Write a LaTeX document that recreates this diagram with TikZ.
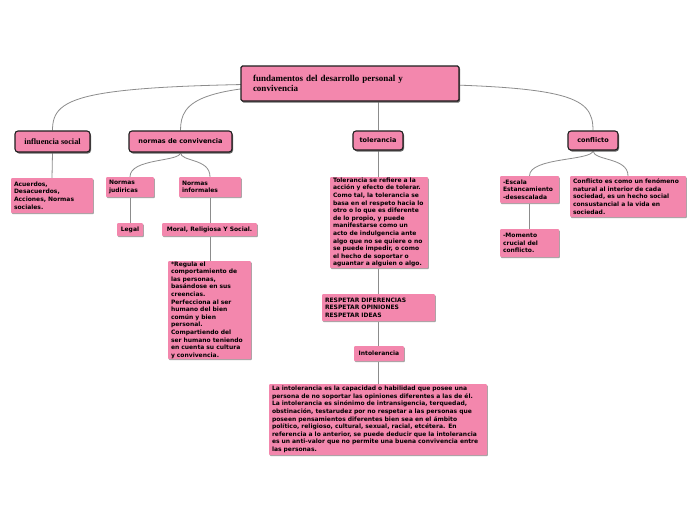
\documentclass[tikz,border=0pt]{standalone}
\usepackage{fontspec}
\setmainfont{Liberation Serif}
\setsansfont{DejaVu Sans}
\usetikzlibrary{backgrounds,shadows}
\definecolor{pinkfill}{RGB}{243,135,173}
\definecolor{edgecol}{RGB}{30,30,30}
\definecolor{linecol}{RGB}{140,140,140}
\tikzset{
  base/.style={fill=pinkfill, inner ysep=0pt, anchor=center},
  rootbox/.style={base, draw=edgecol, line width=1.4pt, rounded corners=1.5pt,
    drop shadow={shadow xshift=1pt, shadow yshift=-1.5pt, fill=black!60, opacity=1},
    font=\rmfamily\bfseries\fontsize{9}{10}\selectfont, align=left},
  topic/.style={base, draw=edgecol, line width=1.1pt, rounded corners=3pt,
    drop shadow={shadow xshift=1pt, shadow yshift=-1.5pt, fill=black!60, opacity=1},
    font=\sffamily\bfseries\fontsize{6.5}{8}\selectfont, align=center, inner xsep=0pt},
  leaf/.style={base, rounded corners=1pt, inner xsep=3pt,
    drop shadow={shadow xshift=0.8pt, shadow yshift=-1.2pt, fill=black!35, opacity=1},
    font=\sffamily\bfseries\fontsize{6}{7.6}\selectfont, align=left},
  conn/.style={draw=linecol, line width=0.8pt},
}
\begin{document}
\begin{tikzpicture}[x=1pt,y=-1pt]
\useasboundingbox (0,0) rectangle (696,520);

% root
\node[rootbox, minimum width=218pt, minimum height=35pt, text width=194pt, inner xsep=12pt] (root) at (350,83.5)
  {fundamentos del desarrollo personal y\\convivencia};

% level 1
\node[topic, minimum width=75pt, minimum height=21pt, font=\rmfamily\bfseries\fontsize{8.2}{9}\selectfont] (infl) at (52.5,141.5) {influencia social};
\node[topic, minimum width=103pt, minimum height=21pt] (normas) at (180.5,141.5) {normas de convivencia};
\node[topic, minimum width=50pt, minimum height=19pt] (toler) at (378,140.5) {tolerancia};
\node[topic, minimum width=50pt, minimum height=19pt] (confl) at (593,140.5) {conflicto};

% leaves
\node[leaf, minimum width=82pt, minimum height=35pt, text width=76pt] (acuerdos) at (52,195.5)
  {Acuerdos,\\Desacuerdos,\\Acciones, Normas\\sociales.};
\node[leaf, minimum width=48pt, minimum height=20pt, text width=42pt] (jur) at (130,187)
  {Normas\\judiricas};
\node[leaf, minimum width=62pt, minimum height=20pt, text width=56pt] (inf) at (210,187)
  {Normas\\informales};
\node[leaf, minimum width=26pt, minimum height=13pt, align=center, inner xsep=0pt] (legal) at (130,229.5) {Legal};
\node[leaf, minimum width=95pt, minimum height=13pt, align=center, inner xsep=0pt] (moral) at (209.5,229.5) {Moral, Religiosa Y Social.};
\node[leaf, minimum width=83pt, minimum height=98pt, text width=77pt] (regula) at (209.5,310)
  {*Regula el\\comportamiento de\\las personas,\\basándose en sus\\creencias.\\*Perfecciona al ser\\humano del bien\\común y bien\\personal.\\*Compartiendo del\\ser humano teniendo\\en cuenta su cultura\\y convivencia.};
\node[leaf, minimum width=98pt, minimum height=91pt, text width=92pt] (tolbox) at (379,222.5)
  {Tolerancia se refiere a la\\acción y efecto de tolerar.\\Como tal, la tolerancia se\\basa en el respeto hacia lo\\otro o lo que es diferente\\de lo propio, y puede\\manifestarse como un\\acto de indulgencia ante\\algo que no se quiere o no\\se puede impedir, o como\\el hecho de soportar o\\aguantar a alguien o algo.};
\node[leaf, minimum width=113pt, minimum height=27pt, text width=107pt] (respetar) at (378.5,307.5)
  {RESPETAR DIFERENCIAS\\RESPETAR OPINIONES\\RESPETAR IDEAS};
\node[leaf, minimum width=50pt, minimum height=15pt, align=center, inner xsep=0pt] (intol) at (379,353.5) {Intolerancia};
\node[leaf, minimum width=218pt, minimum height=71pt, text width=212pt] (laintol) at (378,419.5)
  {La intolerancia es la capacidad o habilidad que posee una\\persona de no soportar las opiniones diferentes a las de él.\\La intolerancia es sinónimo de intransigencia, terquedad,\\obstinación, testarudez por no respetar a las personas que\\poseen pensamientos diferentes bien sea en el ámbito\\político, religioso, cultural, sexual, racial, etcétera. En\\referencia a lo anterior, se puede deducir que la intolerancia\\es un anti-valor que no permite una buena convivencia entre\\las personas.};
\node[leaf, minimum width=59pt, minimum height=27pt, text width=53pt] (escala) at (529.5,189.5)
  {-Escala\\Estancamiento\\-desescalada};
\node[leaf, minimum width=116pt, minimum height=41pt, text width=110pt] (confes) at (628,196.5)
  {Conflicto es como un fenómeno\\natural al interior de cada\\sociedad, es un hecho social\\consustancial a la vida en\\sociedad.};
\node[leaf, minimum width=59pt, minimum height=28pt, text width=53pt] (momento) at (529.5,243)
  {-Momento\\crucial del\\conflicto.};

% connectors
\begin{pgfonlayer}{background}
\fill[white] (0,0) rectangle (696,520);
\draw[conn] (root.center) .. controls (80,84) and (52.5,95) .. (infl.north);
\draw[conn] (root.center) .. controls (200,84) and (180.5,100) .. (normas.north);
\draw[conn] (root.center) .. controls (570,84) and (593,95) .. (confl.north);
\draw[conn] (toler.north |- root.center) -- (toler.north);

\draw[conn] (infl.south) -- (acuerdos.north);
\draw[conn] (normas.south) .. controls (180.5,162) and (130,158) .. (jur.north);
\draw[conn] (normas.south) .. controls (180.5,162) and (210,158) .. (inf.north);
\draw[conn] (jur.south) -- (legal.north);
\draw[conn] (inf.south) -- (inf.south |- moral.north);
\draw[conn] (inf.south |- moral.south) -- (inf.south |- regula.north);

\draw[conn] (toler.south) -- (toler.south |- tolbox.north);
\draw[conn] (toler.south |- tolbox.south) -- (toler.south |- respetar.north);
\draw[conn] (toler.south |- respetar.south) -- (toler.south |- intol.north);
\draw[conn] (toler.south |- intol.south) -- (toler.south |- laintol.north);

\draw[conn] (confl.south) .. controls (593,161) and (529.5,157) .. (escala.north);
\draw[conn] (confl.south) .. controls (593,161) and (628,157) .. (confes.north);
\draw[conn] (escala.south) -- (momento.north);
\end{pgfonlayer}
\end{tikzpicture}
\end{document}
